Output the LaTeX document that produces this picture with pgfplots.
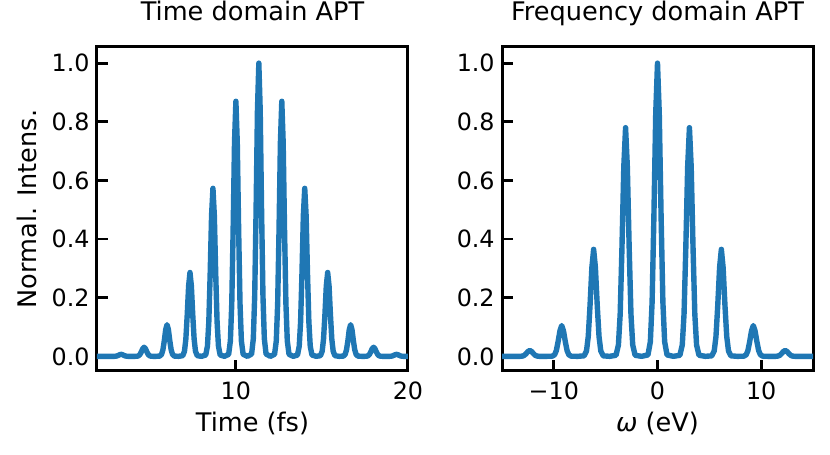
\documentclass[border=0pt]{standalone}
\usepackage{fontspec}
\setmainfont{DejaVu Sans}
\usepackage{pgfplots}
\pgfplotsset{compat=1.18}
\definecolor{tabblue}{HTML}{1F77B4}

\pgfplotsset{
  aptax/.style={
    scale only axis,
    width=155.5pt, height=162pt,
    ymin=-0.05, ymax=1.055,
    ytick={0,0.2,0.4,0.6,0.8,1.0},
    yticklabels={0.0,0.2,0.4,0.6,0.8,1.0},
    tick pos=left,
    tick align=inside,
    major tick length=5.5pt,
    every tick/.style={black, line width=1.4pt},
    axis line style={line width=1.5pt},
    every outer x axis line/.append style={line width=1.5pt},
    every outer y axis line/.append style={line width=1.5pt},
    ticklabel style={font=\fontsize{11.9}{14}\selectfont},
    xticklabel style={anchor=base, inner sep=0pt, yshift=-14.5pt},
    yticklabel style={anchor=east, inner sep=0pt, xshift=-3.5pt},
    title style={at={(axis description cs:0.5,1)}, anchor=base, yshift=7pt,
                 font=\fontsize{12.8}{15}\selectfont},
    label style={font=\fontsize{12.8}{15}\selectfont},
    xlabel style={at={(axis description cs:0.5,0)}, anchor=base, yshift=-30.5pt},
  },
  aptline/.style={color=tabblue, line width=2.7pt, line join=round, mark=none},
}

\begin{document}
\begin{tikzpicture}
\useasboundingbox (-48.5pt,-42pt) rectangle (366.5pt,185.5pt);

% time domain
\begin{axis}[aptax, at={(0pt,0pt)}, anchor=south west,
  xmin=1.93, xmax=20,
  xtick={10,20}, xticklabels={10,20},
  title={Time domain APT},
  xlabel={Time (fs)},
  ylabel={Normal. Intens.},
  ylabel style={at={(axis description cs:-0.225,0.5)}, anchor=center},
]
\addplot[aptline] coordinates {
(1.9,0) (2.667,0)
(2.913,0) (3.013,0.0004) (3.093,0.0014) (3.173,0.0033) (3.253,0.0056) (3.333,0.0067) (3.413,0.0056) (3.493,0.0033) (3.573,0.0014) (3.653,0.0004) (3.753,0) (4.0,0)
(4.247,0.0002) (4.347,0.0019) (4.427,0.0064) (4.507,0.0153) (4.587,0.026) (4.667,0.031) (4.747,0.026) (4.827,0.0153) (4.907,0.0064) (4.987,0.0019) (5.087,0.0002) (5.333,0)
(5.58,0.0009) (5.68,0.0065) (5.76,0.022) (5.84,0.053) (5.92,0.091) (6.0,0.108) (6.08,0.091) (6.16,0.053) (6.24,0.022) (6.32,0.0065) (6.42,0.0009) (6.667,0)
(6.913,0.0023) (7.013,0.0172) (7.093,0.059) (7.173,0.142) (7.253,0.240) (7.333,0.286) (7.413,0.240) (7.493,0.142) (7.573,0.059) (7.653,0.0172) (7.753,0.0023) (8.0,0)
(8.247,0.0045) (8.347,0.0346) (8.427,0.118) (8.507,0.284) (8.587,0.481) (8.667,0.573) (8.747,0.481) (8.827,0.284) (8.907,0.118) (8.987,0.0346) (9.087,0.0045) (9.333,0)
(9.58,0.0069) (9.68,0.0525) (9.76,0.179) (9.84,0.431) (9.92,0.730) (10.0,0.870) (10.08,0.730) (10.16,0.431) (10.24,0.179) (10.32,0.0525) (10.42,0.0069) (10.667,0)
(10.913,0.0079) (11.013,0.0603) (11.093,0.206) (11.173,0.495) (11.253,0.839) (11.333,1.0) (11.413,0.839) (11.493,0.495) (11.573,0.206) (11.653,0.0603) (11.753,0.0079) (12.0,0)
(12.247,0.0069) (12.347,0.0525) (12.427,0.179) (12.507,0.431) (12.587,0.730) (12.667,0.870) (12.747,0.730) (12.827,0.431) (12.907,0.179) (12.987,0.0525) (13.087,0.0069) (13.333,0)
(13.58,0.0045) (13.68,0.0346) (13.76,0.118) (13.84,0.284) (13.92,0.481) (14.0,0.573) (14.08,0.481) (14.16,0.284) (14.24,0.118) (14.32,0.0346) (14.42,0.0045) (14.667,0)
(14.913,0.0023) (15.013,0.0172) (15.093,0.059) (15.173,0.142) (15.253,0.240) (15.333,0.286) (15.413,0.240) (15.493,0.142) (15.573,0.059) (15.653,0.0172) (15.753,0.0023) (16.0,0)
(16.247,0.0009) (16.347,0.0065) (16.427,0.022) (16.507,0.053) (16.587,0.091) (16.667,0.108) (16.747,0.091) (16.827,0.053) (16.907,0.022) (16.987,0.0065) (17.087,0.0009) (17.333,0)
(17.58,0.0002) (17.68,0.0019) (17.76,0.0064) (17.84,0.0153) (17.92,0.026) (18.0,0.031) (18.08,0.026) (18.16,0.0153) (18.24,0.0064) (18.32,0.0019) (18.42,0.0002) (18.667,0)
(18.913,0) (19.013,0.0004) (19.093,0.0014) (19.173,0.0033) (19.253,0.0056) (19.333,0.0067) (19.413,0.0056) (19.493,0.0033) (19.573,0.0014) (19.653,0.0004) (19.753,0) (20.0,0)
};
\end{axis}

% frequency domain
\begin{axis}[aptax, at={(202.5pt,0pt)}, anchor=south west,
  xmin=-15, xmax=15,
  xtick={-10,0,10}, xticklabels={−10,0,10},
  title={Frequency domain APT},
  xlabel={\textit{ω} (eV)},
]
\addplot[aptline] coordinates {
(-15,0) (-13.86,0)
(-13.24,0.0001) (-13.01,0.001) (-12.84,0.0037) (-12.67,0.0094) (-12.49,0.0166) (-12.32,0.02) (-12.15,0.0166) (-11.97,0.0094) (-11.80,0.0037) (-11.63,0.001) (-11.40,0.0001) (-10.78,0)
(-10.16,0.0005) (-9.93,0.0052) (-9.76,0.0194) (-9.59,0.0496) (-9.41,0.087) (-9.24,0.105) (-9.07,0.087) (-8.89,0.0496) (-8.72,0.0194) (-8.55,0.0052) (-8.32,0.0005) (-7.70,0)
(-7.08,0.0018) (-6.85,0.0182) (-6.68,0.0675) (-6.51,0.172) (-6.33,0.303) (-6.16,0.365) (-5.99,0.303) (-5.81,0.172) (-5.64,0.0675) (-5.47,0.0182) (-5.24,0.0018) (-4.62,0)
(-4.00,0.0037) (-3.77,0.0388) (-3.60,0.144) (-3.43,0.368) (-3.25,0.647) (-3.08,0.78) (-2.91,0.647) (-2.73,0.368) (-2.56,0.144) (-2.39,0.0388) (-2.16,0.0037) (-1.54,0)
(-0.92,0.0048) (-0.69,0.0498) (-0.52,0.185) (-0.35,0.472) (-0.17,0.829) (0,1.0) (0.17,0.829) (0.35,0.472) (0.52,0.185) (0.69,0.0498) (0.92,0.0048) (1.54,0)
(2.16,0.0037) (2.39,0.0388) (2.56,0.144) (2.73,0.368) (2.91,0.647) (3.08,0.78) (3.25,0.647) (3.43,0.368) (3.60,0.144) (3.77,0.0388) (4.00,0.0037) (4.62,0)
(5.24,0.0018) (5.47,0.0182) (5.64,0.0675) (5.81,0.172) (5.99,0.303) (6.16,0.365) (6.33,0.303) (6.51,0.172) (6.68,0.0675) (6.85,0.0182) (7.08,0.0018) (7.70,0)
(8.32,0.0005) (8.55,0.0052) (8.72,0.0194) (8.89,0.0496) (9.07,0.087) (9.24,0.105) (9.41,0.087) (9.59,0.0496) (9.76,0.0194) (9.93,0.0052) (10.16,0.0005) (10.78,0)
(11.40,0.0001) (11.63,0.001) (11.80,0.0037) (11.97,0.0094) (12.15,0.0166) (12.32,0.02) (12.49,0.0166) (12.67,0.0094) (12.84,0.0037) (13.01,0.001) (13.24,0.0001) (13.86,0)
(15,0)
};
\end{axis}
\end{tikzpicture}
\end{document}
